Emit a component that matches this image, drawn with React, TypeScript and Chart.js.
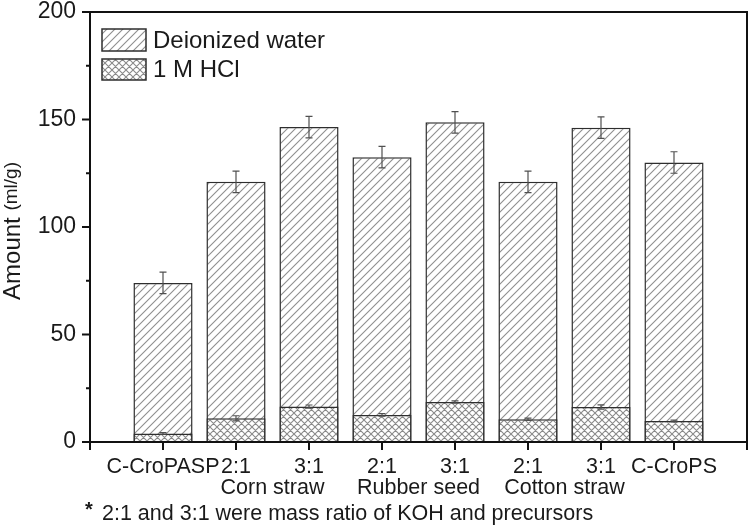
import React, { useEffect, useRef } from 'react';
import { Chart, registerables } from 'chart.js';
Chart.register(...registerables);

const categories = ['C-CroPASP', '2:1', '3:1', '2:1', '3:1', '2:1', '3:1', 'C-CroPS'];
const groupLabels = ['Corn straw', 'Rubber seed', 'Cotton straw'];
const groupStart = [1, 3, 5];
const waterValues = [74.0, 121.0, 146.5, 132.5, 148.7, 121.0, 146.2, 130.0];
const waterErrors = [5, 5, 5, 5, 5, 5, 5, 5];
const hclValues = [4.0, 11.0, 16.5, 12.6, 18.6, 10.6, 16.3, 9.8];
const hclErrors = [0.4, 1.2, 0.7, 0.6, 0.5, 0.5, 1.0, 0.4];
const yMajorTicks = [0, 50, 100, 150, 200];
const yMinorTicks = [25, 75, 125, 175];
const legendLabels = ['Deionized water', '1 M HCl'];
const yTitleMain = 'Amount';
const yTitleUnit = '(ml/g)';
const footnoteStar = '*';
const footnoteText = '2:1 and 3:1 were mass ratio of KOH and precursors';

const FONT = '"Liberation Sans", Arial, Helvetica, sans-serif';
const TEXT = '#1a1a1a';
const EDGE = '#2e2e2e';

function makePattern(ctx: CanvasRenderingContext2D, cross: boolean): CanvasPattern | string {
  const s = cross ? 7 : 8;
  const c = document.createElement('canvas');
  c.width = s;
  c.height = s;
  const g = c.getContext('2d');
  if (!g) return '#fff';
  g.fillStyle = '#ffffff';
  g.fillRect(0, 0, s, s);
  g.strokeStyle = cross ? '#8a8a8a' : '#8f8f8f';
  g.lineWidth = 1.1;
  g.beginPath();
  g.moveTo(-1, s + 1);
  g.lineTo(s + 1, -1);
  g.moveTo(-1, 1);
  g.lineTo(1, -1);
  g.moveTo(s - 1, s + 1);
  g.lineTo(s + 1, s - 1);
  if (cross) {
    g.moveTo(-1, -1);
    g.lineTo(s + 1, s + 1);
    g.moveTo(s - 1, -1);
    g.lineTo(s + 1, 1);
    g.moveTo(-1, s - 1);
    g.lineTo(1, s + 1);
  }
  g.stroke();
  return ctx.createPattern(c, 'repeat') || '#fff';
}

export default function App() {
  const ref = useRef<HTMLCanvasElement | null>(null);

  useEffect(() => {
    const canvas = ref.current;
    if (!canvas) return;
    const ctx0 = canvas.getContext('2d');
    if (!ctx0) return;
    const waterPat = makePattern(ctx0, false);
    const hclPat = makePattern(ctx0, true);

    const decor = {
      id: 'decor',
      afterDatasetsDraw(chart: any) {
        const ctx = chart.ctx as CanvasRenderingContext2D;
        const xs = chart.scales.x;
        const ys = chart.scales.y;
        ctx.save();
        const drawErr = (vals: number[], errs: number[]) => {
          ctx.strokeStyle = '#505050';
          ctx.lineWidth = 1.2;
          vals.forEach((v, i) => {
            const x = xs.getPixelForValue(i);
            const yt = ys.getPixelForValue(v + errs[i]);
            const yb = ys.getPixelForValue(v - errs[i]);
            ctx.beginPath();
            ctx.moveTo(x, yt);
            ctx.lineTo(x, yb);
            ctx.moveTo(x - 3.5, yt);
            ctx.lineTo(x + 3.5, yt);
            ctx.moveTo(x - 3.5, yb);
            ctx.lineTo(x + 3.5, yb);
            ctx.stroke();
          });
        };
        drawErr(waterValues, waterErrors);
        drawErr(hclValues, hclErrors);
        ctx.restore();
      },
      afterDraw(chart: any) {
        const ctx = chart.ctx as CanvasRenderingContext2D;
        const a = chart.chartArea;
        const xs = chart.scales.x;
        const ys = chart.scales.y;
        ctx.save();
        ctx.strokeStyle = '#111';
        ctx.lineWidth = 2;
        ctx.beginPath();
        ctx.moveTo(a.left, a.bottom);
        ctx.lineTo(a.left, a.top);
        ctx.lineTo(a.right, a.top);
        ctx.lineTo(a.right, a.bottom);
        ctx.lineTo(a.left, a.bottom);
        ctx.stroke();
        ctx.beginPath();
        yMajorTicks.forEach((t) => {
          const y = ys.getPixelForValue(t);
          ctx.moveTo(a.left, y);
          ctx.lineTo(a.left - 8, y);
        });
        yMinorTicks.forEach((t) => {
          const y = ys.getPixelForValue(t);
          ctx.moveTo(a.left, y);
          ctx.lineTo(a.left - 4, y);
        });
        for (let i = -1; i <= categories.length; i++) {
          const x = xs.getPixelForValue(i);
          ctx.moveTo(x, a.bottom);
          ctx.lineTo(x, a.bottom + 8);
        }
        ctx.stroke();

        ctx.fillStyle = TEXT;
        ctx.font = `21.5px ${FONT}`;
        ctx.textAlign = 'center';
        ctx.textBaseline = 'middle';
        groupLabels.forEach((g, k) => {
          const x = (xs.getPixelForValue(groupStart[k]) + xs.getPixelForValue(groupStart[k] + 1)) / 2;
          ctx.fillText(g, x, 488);
        });
        ctx.textAlign = 'left';
        ctx.font = `21.5px ${FONT}`;
        ctx.fillText(footnoteText, 102, 514);
        ctx.font = `bold 20px ${FONT}`;
        ctx.fillText(footnoteStar, 85, 510);

        ctx.save();
        ctx.translate(13, 231);
        ctx.rotate(-Math.PI / 2);
        ctx.textBaseline = 'middle';
        ctx.font = `24px ${FONT}`;
        const w1 = ctx.measureText(yTitleMain + ' ').width;
        ctx.font = `19px ${FONT}`;
        const w2 = ctx.measureText(yTitleUnit).width;
        const start = -(w1 + w2) / 2;
        ctx.textAlign = 'left';
        ctx.font = `24px ${FONT}`;
        ctx.fillText(yTitleMain, start, 0);
        ctx.font = `19px ${FONT}`;
        ctx.fillText(yTitleUnit, start + w1, -1);
        ctx.restore();

        const boxes = [
          { y: 29, h: 22, pat: waterPat },
          { y: 59, h: 21, pat: hclPat },
        ];
        ctx.font = `24px ${FONT}`;
        ctx.textAlign = 'left';
        ctx.textBaseline = 'middle';
        boxes.forEach((b, i) => {
          ctx.fillStyle = b.pat as any;
          ctx.fillRect(102, b.y, 44, b.h);
          ctx.strokeStyle = EDGE;
          ctx.lineWidth = 1.5;
          ctx.strokeRect(102, b.y, 44, b.h);
          ctx.fillStyle = TEXT;
          ctx.fillText(legendLabels[i], 153, b.y + b.h / 2 + 1);
        });
        ctx.restore();
      },
    };

    const chart = new Chart(canvas, {
      type: 'bar',
      data: {
        datasets: [
          {
            label: legendLabels[0],
            data: waterValues.map((v, i) => ({ x: i, y: v })),
            backgroundColor: waterPat as any,
            borderColor: EDGE,
            borderWidth: 1.5,
            order: 2,
            grouped: false,
            barPercentage: 0.81,
            categoryPercentage: 1,
          } as any,
          {
            label: legendLabels[1],
            data: hclValues.map((v, i) => ({ x: i, y: v })),
            backgroundColor: hclPat as any,
            borderColor: EDGE,
            borderWidth: 1.5,
            order: 1,
            grouped: false,
            barPercentage: 0.81,
            categoryPercentage: 1,
          } as any,
        ],
      },
      options: {
        animation: false,
        responsive: false,
        events: [],
        layout: { padding: { left: 0, right: 3, top: 12, bottom: 0 } },
        plugins: {
          legend: { display: false },
          tooltip: { enabled: false },
          title: { display: false },
        },
        scales: {
          x: {
            type: 'linear',
            min: -1,
            max: categories.length,
            offset: false,
            grid: { display: false, drawTicks: false },
            border: { display: false },
            afterFit: (s: any) => {
              s.height = 87;
              s.paddingLeft = 0;
              s.paddingRight = 0;
            },
            afterBuildTicks: (s: any) => {
              const t = [];
              for (let i = -1; i <= categories.length; i++) t.push({ value: i });
              s.ticks = t;
            },
            ticks: {
              autoSkip: false,
              maxRotation: 0,
              padding: 12,
              color: TEXT,
              font: { family: FONT, size: 21.5 },
              callback: (v: any) => {
                const i = Math.round(Number(v));
                return i >= 0 && i < categories.length ? categories[i] : '';
              },
            },
          },
          y: {
            type: 'linear',
            min: 0,
            max: 200,
            grid: { display: false, drawTicks: false },
            border: { display: false },
            afterFit: (s: any) => {
              s.width = 90;
              s.paddingTop = 0;
              s.paddingBottom = 0;
            },
            afterBuildTicks: (s: any) => {
              s.ticks = yMajorTicks.map((v) => ({ value: v }));
            },
            ticks: {
              padding: 14,
              color: TEXT,
              font: { family: FONT, size: 23 },
            },
          },
        },
      },
      plugins: [decor],
    });
    return () => chart.destroy();
  }, []);

  return (
    <div style={{ position: 'fixed', left: 0, top: 0, width: 750, height: 529, background: '#fff' }}>
      <canvas ref={ref} width={750} height={529} style={{ display: 'block' }} />
    </div>
  );
}
